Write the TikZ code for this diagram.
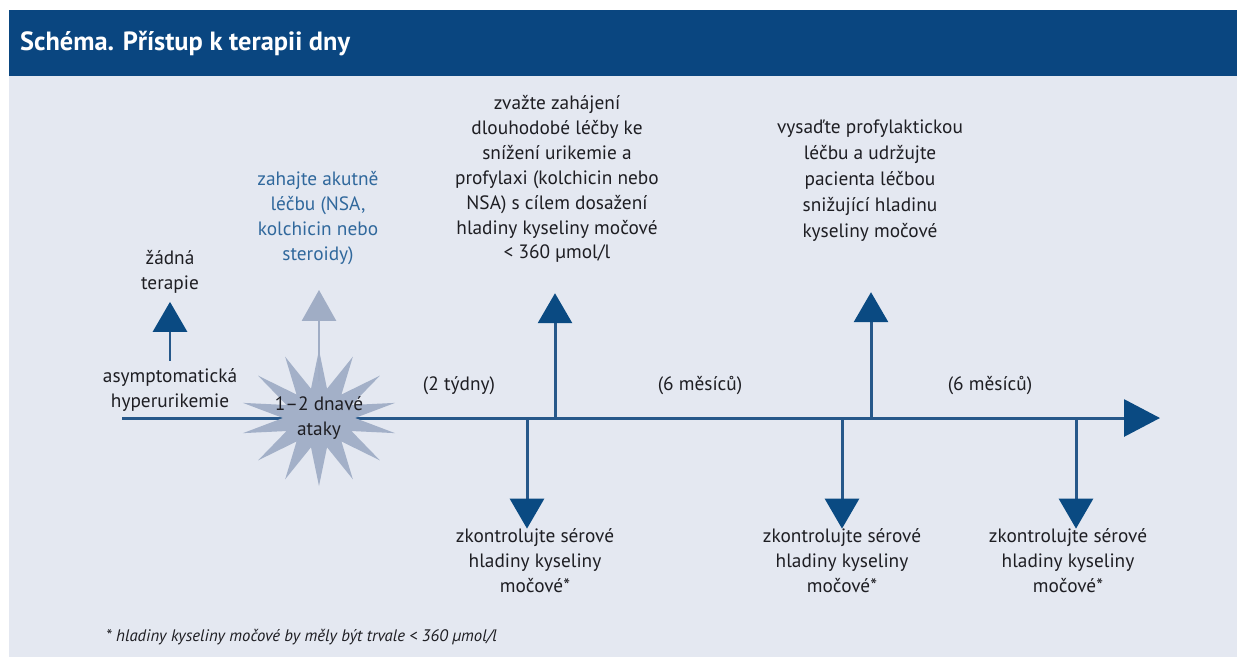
\documentclass[tikz,border=0pt]{standalone}
\usepackage{fontspec}
\setmainfont{PT Sans}
\usetikzlibrary{arrows.meta}

\definecolor{bandblue}{RGB}{10,70,128}
\definecolor{paleback}{RGB}{228,232,241}
\definecolor{lineblue}{RGB}{38,88,138}
\definecolor{headblue}{RGB}{10,74,130}
\definecolor{palearrow}{RGB}{160,173,197}
\definecolor{starfill}{RGB}{163,176,200}
\definecolor{acuteblue}{RGB}{48,104,156}
\definecolor{txt}{RGB}{30,30,35}

\begin{document}
\begin{tikzpicture}[x=0.02cm, y=-0.02cm,
    lbl/.style={align=center, inner sep=0pt, text=txt, font=\fontsize{11}{14.2}\selectfont},
    shaft/.style={draw=lineblue, line width=1.7pt},
    tipup/.style={shaft, -{Triangle[width=0.68cm, length=0.6cm, color=headblue]}},
    tippale/.style={draw=palearrow, line width=1.7pt, -{Triangle[width=0.68cm, length=0.62cm, color=palearrow]}}]
        % frame and title
        \useasboundingbox (0,0) rectangle (1237,657);
        \fill[paleback] (9,76) rectangle (1237,657);
        \fill[bandblue] (9,10) rectangle (1237,76);
        \node[anchor=west, text=white, font=\fontsize{15}{17}\selectfont\bfseries] (title) at (14,44) {Schéma. Přístup k terapii dny};

        % time axis
        \coordinate (start) at (122,418);
        \coordinate (finish) at (1160,418);
        \coordinate (up1) at (555,418);
        \coordinate (up2) at (871,418);
        \coordinate (down1) at (527,418);
        \coordinate (down2) at (842,418);
        \coordinate (down3) at (1076,418);
        \draw[shaft, -{Triangle[width=0.74cm, length=0.72cm, color=headblue]}] (start) -- (finish);

        % gout attack burst
        \fill[starfill] plot[samples=28, domain=0:27, variable=\k]
            ({319 + (mod(\k,2)==0 ? 78 : 36)*cos(90+\k*360/28)},
             {418 - (mod(\k,2)==0 ? 68 : 30)*sin(90+\k*360/28)}) -- cycle;
        \node[lbl] (attack) at (319,418) {1–2 dnavé\\ataky};

        % labels above
        \node[lbl] (asym) at (170,390) {asymptomatická\\hyperurikemie};
        \node[lbl] (none) at (170,272) {žádná\\terapie};
        \node[lbl, text=acuteblue] (acute) at (318,218) {zahajte akutně\\léčbu (NSA,\\kolchicin nebo\\steroidy)};
        \node[lbl] (longterm) at (557,179) {zvažte zahájení\\dlouhodobé léčby ke\\snížení urikemie a\\profylaxi (kolchicin nebo\\NSA) s cílem dosažení\\hladiny kyseliny močové\\< 360 µmol/l};
        \node[lbl, font=\fontsize{11}{14.8}\selectfont] (keep) at (870,181) {vysaďte profylaktickou\\léčbu a udržujte\\pacienta léčbou\\snižující hladinu\\kyseliny močové};

        % intervals
        \node[lbl] (weeks) at (459,386) {(2 týdny)};
        \node[lbl] (months1) at (700,386) {(6 měsíců)};
        \node[lbl] (months2) at (990,386) {(6 měsíců)};

        % labels below
        \node[lbl] (check1) at (535,561) {zkontrolujte sérové\\hladiny kyseliny\\močové*};
        \node[lbl] (check2) at (842,561) {zkontrolujte sérové\\hladiny kyseliny\\močové*};
        \node[lbl] (check3) at (1068,561) {zkontrolujte sérové\\hladiny kyseliny\\močové*};

        % arrows
        \draw[tipup, shorten <=0.15cm, shorten >=0.16cm] (asym.north) -- (asym.north |- none.south);
        \draw[tippale, shorten <=0.3cm, shorten >=0.5cm] (attack.north) -- (attack.north |- acute.south);
        \draw[tipup, shorten >=0.6cm] (up1) -- (up1 |- longterm.south);
        \draw[tipup, shorten >=1.0cm] (up2) -- (up2 |- keep.south);
        \draw[tipup] (down1) -- (down1 |- check1.north);
        \draw[tipup] (down2) -- (down2 |- check2.north);
        \draw[tipup] (down3) -- (down3 |- check3.north);

        \node[anchor=west, text=txt, font=\fontsize{9.5}{11}\selectfont\itshape] (note) at (100,637) {* hladiny kyseliny močové by měly být trvale < 360 µmol/l};
\end{tikzpicture}
\end{document}
